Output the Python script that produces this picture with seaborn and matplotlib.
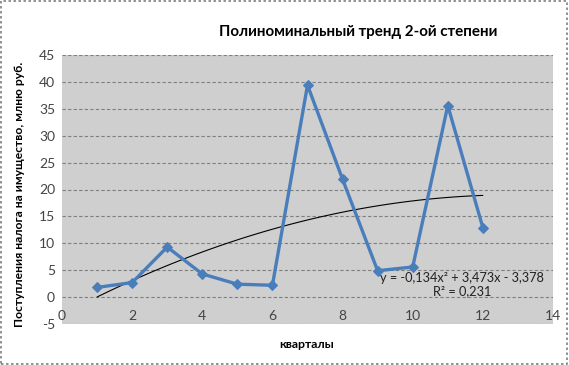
import numpy as np
import pandas as pd
import matplotlib
matplotlib.use("Agg")
import matplotlib.pyplot as plt
import seaborn as sns
from matplotlib.patches import Rectangle

quarters = [1, 2, 3, 4, 5, 6, 7, 8, 9, 10, 11, 12]
revenue = [1.8, 2.7, 9.3, 4.3, 2.4, 2.2, 39.4, 21.9, 4.9, 5.6, 35.6, 12.9]
x_ticks = [0, 2, 4, 6, 8, 10, 12, 14]
y_ticks = [-5, 0, 5, 10, 15, 20, 25, 30, 35, 40, 45]
title = "Полиноминальный тренд 2-ой степени"
xlabel = "кварталы"
ylabel = "Поступления налога на имущество, млню руб."
eq_text = "y = -0,134x² + 3,473x - 3,378\nR² = 0,231"

df = pd.DataFrame({"q": quarters, "v": revenue})

sns.set_theme(style="white")
plt.rcParams["font.family"] = ["Lato", "DejaVu Sans"]

fig = plt.figure(figsize=(5.69, 3.65), dpi=100)
ax = fig.add_axes([62/569, 1-324/365, (553-62)/569, (324-55)/365])
ax.set_facecolor("#cfcfcf")

sns.lineplot(data=df, x="q", y="v", ax=ax, color="#4a7ebb", linewidth=2.4,
             marker="D", markersize=5.5, markeredgecolor="#4a7ebb", zorder=3)

coef = np.polyfit(quarters, revenue, 2)
xs = np.linspace(min(quarters), max(quarters), 100)
ax.plot(xs, np.polyval(coef, xs), color="black", linewidth=0.8, zorder=2)

ax.set_xlim(0, 14)
ax.set_ylim(-5, 45)
ax.set_xticks(x_ticks)
ax.set_yticks(y_ticks)
ax.set_xticklabels([str(t) for t in x_ticks], fontsize=10, color="#444444")
ax.set_yticklabels([str(t) for t in y_ticks], fontsize=10, color="#444444")
ax.tick_params(axis="x", length=0, pad=-10)
ax.tick_params(axis="y", length=0, pad=5)
ax.yaxis.grid(True, color="#7f7f7f", linestyle=(0, (3, 2)), linewidth=0.8)
ax.xaxis.grid(False)
ax.set_axisbelow(True)
for s in ax.spines.values():
    s.set_visible(False)
ax.set_xlabel("")
ax.set_ylabel("")

ax.text(11.4, 2.3, eq_text, ha="center", va="center", fontsize=9.2,
        color="#222222", linespacing=1.15, zorder=4)

fig.text(358/569, 1-32/365, title, ha="center", va="center", fontsize=10.9,
         fontweight="bold", color="black")
fig.text(307/569, 1-344/365, xlabel, ha="center", va="center", fontsize=8.8,
         fontweight="bold", color="black")
fig.text(20/569, 1-194/365, ylabel, ha="center", va="center", fontsize=8.7,
         fontweight="bold", rotation=90, color="black")

fig.patches.append(Rectangle((0.002, 0.003), 0.995, 0.993, transform=fig.transFigure,
                             fill=False, edgecolor="#808080", linestyle=(0, (1.5, 1.5)),
                             linewidth=1.2))

fig.savefig("out.png", dpi=100)
